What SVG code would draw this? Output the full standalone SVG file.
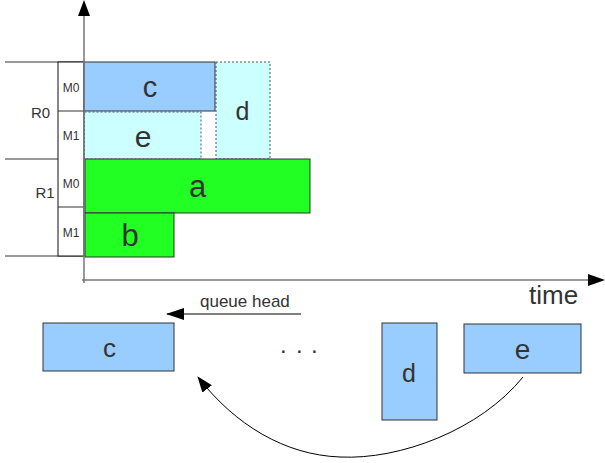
<svg xmlns="http://www.w3.org/2000/svg" width="605" height="463" viewBox="0 0 605 463">
  <style>
    text { font-family: "Liberation Sans", Arial, sans-serif; fill: #333; }
    .mid { text-anchor: middle; }
    .job { stroke: #333; stroke-width: 1; }
    .blue { fill: #99ccff; }
    .cyan { fill: #ccffff; stroke: #555; stroke-width: 1; stroke-dasharray: 2 2; }
    .green { fill: #22ff22; }
    .grid { stroke: #333; stroke-width: 1; fill: none; }
    .axis { stroke: #777; stroke-width: 1.5; fill: none; }
  </style>
  <defs>
    <marker id="arrow" markerUnits="userSpaceOnUse" markerWidth="18" markerHeight="12" refX="17" refY="6" orient="auto">
      <path d="M0,0 L18,6 L0,12 z" fill="#000"/>
    </marker>
    <marker id="arrowSmall" markerUnits="userSpaceOnUse" markerWidth="16" markerHeight="12" refX="15" refY="6" orient="auto">
      <path d="M0,0 L16,6 L0,12 z" fill="#000"/>
    </marker>
  </defs>

  <rect width="605" height="463" fill="#fff"/>

  <!-- resource / machine rows -->
  <g id="rows">
    <line class="grid" x1="5" y1="62" x2="84" y2="62"/>
    <line class="grid" x1="5" y1="159" x2="84" y2="159"/>
    <line class="grid" x1="5" y1="256" x2="84" y2="256"/>
    <rect x="58" y="62" width="26" height="194" fill="#fff" stroke="#111" stroke-width="1"/>
    <line class="grid" x1="58" y1="111" x2="84" y2="111"/>
    <line class="grid" x1="58" y1="207" x2="84" y2="207"/>
    <text x="71" y="92" class="mid" font-size="12">M0</text>
    <text x="71" y="140" class="mid" font-size="12">M1</text>
    <text x="71" y="188" class="mid" font-size="12">M0</text>
    <text x="71" y="237" class="mid" font-size="12">M1</text>
    <text x="40.5" y="118" class="mid" font-size="15">R0</text>
    <text x="45" y="198" class="mid" font-size="15">R1</text>
  </g>

  <!-- scheduled jobs -->
  <g id="job-c">
    <rect class="job blue" x="84" y="62" width="131" height="49"/>
    <text x="150" y="97" class="mid" font-size="29">c</text>
  </g>
  <g id="job-e">
    <rect class="cyan" x="84.5" y="112" width="116.5" height="47"/>
    <text x="143" y="147" class="mid" font-size="30">e</text>
  </g>
  <g id="job-d">
    <rect class="cyan" x="216" y="62" width="54" height="97"/>
    <text x="242.5" y="120" class="mid" font-size="25">d</text>
  </g>
  <g id="job-a">
    <rect class="job green" x="85" y="159" width="225" height="54"/>
    <text x="197.5" y="197" class="mid" font-size="31">a</text>
  </g>
  <g id="job-b">
    <rect class="job green" x="85" y="213" width="89" height="44"/>
    <text x="130" y="246" class="mid" font-size="31">b</text>
  </g>

  <!-- queue -->
  <g id="queue-c">
    <rect class="job blue" x="43" y="323" width="131" height="48"/>
    <text x="109.5" y="357" class="mid" font-size="26">c</text>
  </g>
  <g id="queue-d">
    <rect class="job blue" x="382" y="323" width="55" height="97"/>
    <text x="409" y="382" class="mid" font-size="25">d</text>
  </g>
  <g id="queue-e">
    <rect class="job blue" x="464" y="324" width="117" height="49"/>
    <text x="522.5" y="359" class="mid" font-size="28">e</text>
  </g>
  <g id="ellipsis">
    <text x="280 296 311" y="353" font-size="24">...</text>
  </g>
  <g id="queue-head-label">
    <text x="200" y="307" font-size="17">queue head</text>
  </g>

  <!-- axes and connectors -->
  <g id="connectors">
    <line class="axis" x1="84" y1="283" x2="84" y2="14"/>
    <polygon points="84,0 78,16 90,16" fill="#000"/>
    <line class="axis" x1="82" y1="280" x2="590" y2="280"/>
    <polygon points="605,280 588,274 588,286" fill="#000"/>
    <line x1="301" y1="314" x2="167" y2="314" stroke="#555" stroke-width="1.5" marker-end="url(#arrow)"/>
    <path d="M523,377 C480,430 400,460 340,457 C285,455 235,425 198,377" fill="none" stroke="#000" stroke-width="1" marker-end="url(#arrowSmall)"/>
  </g>
  <text x="529" y="304" font-size="26">time</text>
</svg>
